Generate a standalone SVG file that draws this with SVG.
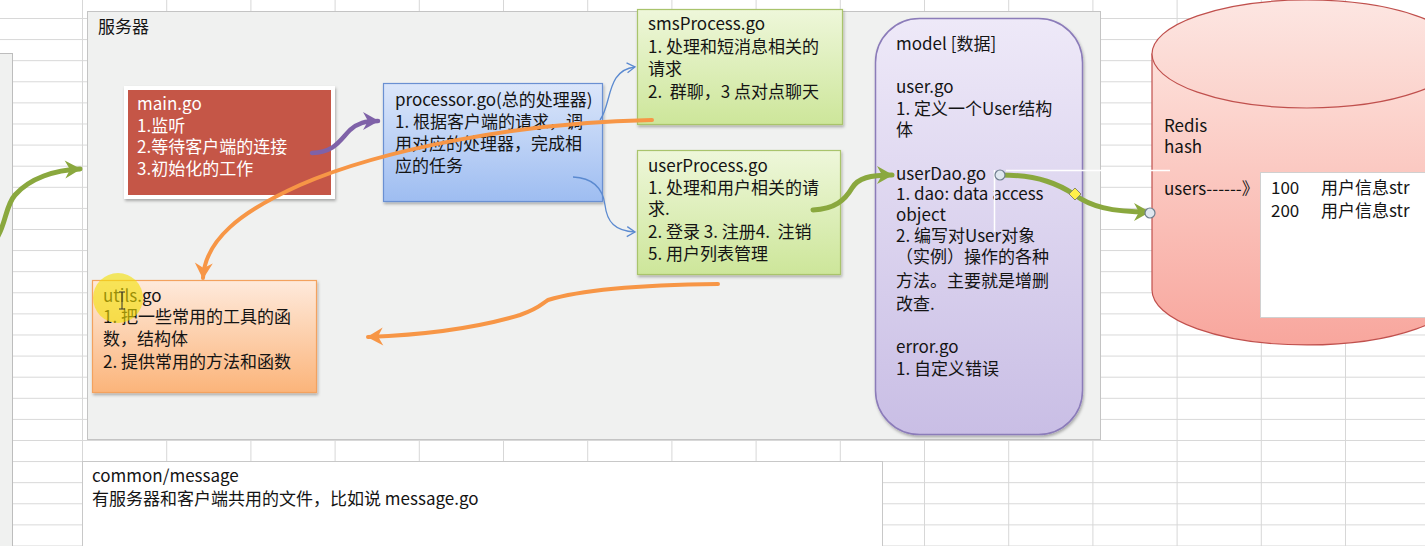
<svg xmlns="http://www.w3.org/2000/svg" width="1425" height="546" viewBox="0 0 1425 546">
<style>
  text { font-family: "Noto Sans CJK SC", "Noto Sans", sans-serif; font-size: 17px; fill: #141414; white-space: pre; }
  .w { fill: #ffffff; }
  .g { fill: none; stroke: #8aa83e; stroke-width: 5; stroke-linecap: round; }
  .o { fill: none; stroke: #f79646; stroke-width: 4; stroke-linecap: round; }
  .p { fill: none; stroke: #7f62a8; stroke-width: 4.5; stroke-linecap: round; }
  .b { fill: none; stroke: #5b8ad0; stroke-width: 1.3; }
  .h { fill: #dfe7ef; stroke: #6f7f8f; stroke-width: 1.2; }
</style>
<defs>
  <pattern id="grid" x="82" y="18" width="84.2" height="21.1" patternUnits="userSpaceOnUse">
    <path d="M0,0.5 H84.2 M0.5,0 V21.1" stroke="#d7d7d7" stroke-width="1" fill="none"/>
  </pattern>
  <filter id="sh" x="-10%" y="-10%" width="130%" height="130%">
    <feDropShadow dx="1" dy="2" stdDeviation="1.5" flood-color="#000" flood-opacity="0.3"/>
  </filter>
  <linearGradient id="gBlue" x1="0" y1="0" x2="0" y2="1">
    <stop offset="0" stop-color="#dbe6fa"/><stop offset="1" stop-color="#9ebdf1"/>
  </linearGradient>
  <linearGradient id="gGreen" x1="0" y1="0" x2="0" y2="1">
    <stop offset="0" stop-color="#eef7da"/><stop offset="1" stop-color="#cde69a"/>
  </linearGradient>
  <linearGradient id="gOrange" x1="0" y1="0" x2="0" y2="1">
    <stop offset="0" stop-color="#feeadc"/><stop offset="1" stop-color="#fbb47a"/>
  </linearGradient>
  <linearGradient id="gPurple" x1="0" y1="0" x2="0" y2="1">
    <stop offset="0" stop-color="#eee9f8"/><stop offset="1" stop-color="#c9bee5"/>
  </linearGradient>
  <linearGradient id="gCyl" x1="0" y1="0" x2="0" y2="1">
    <stop offset="0" stop-color="#fde0da"/><stop offset="1" stop-color="#f8a69d"/>
  </linearGradient>
  <linearGradient id="gCylTop" x1="0" y1="0" x2="0" y2="1">
    <stop offset="0" stop-color="#fde6e2"/><stop offset="1" stop-color="#fbd2cb"/>
  </linearGradient>
  <marker id="mg" markerWidth="22" markerHeight="22" refX="18" refY="11" orient="auto" markerUnits="userSpaceOnUse">
    <path d="M3,2 L19,11 L3,20 L8,11 Z" fill="#8aa83e"/>
  </marker>
  <marker id="mo" markerWidth="22" markerHeight="22" refX="18" refY="11" orient="auto" markerUnits="userSpaceOnUse">
    <path d="M3,2 L19,11 L3,20 L8,11 Z" fill="#f79646"/>
  </marker>
  <marker id="mp" markerWidth="22" markerHeight="22" refX="18" refY="11" orient="auto" markerUnits="userSpaceOnUse">
    <path d="M3,2 L19,11 L3,20 L8,11 Z" fill="#7f62a8"/>
  </marker>
  <marker id="mb" markerWidth="12" markerHeight="12" refX="10" refY="6" orient="auto" markerUnits="userSpaceOnUse">
    <path d="M2,1 L10,6 L2,11" fill="none" stroke="#5b8ad0" stroke-width="1.3"/>
  </marker>
</defs>

<!-- sheet background -->
<rect x="0" y="0" width="1425" height="546" fill="#ffffff"/>
<rect x="0" y="0" width="1425" height="546" fill="url(#grid)"/>
<rect x="-2" y="53.5" width="14.5" height="500" fill="#f0f1f0" stroke="#bdbdbd" stroke-width="1"/>

<!-- server panel -->
<g id="server">
  <rect x="87.5" y="11.5" width="1013" height="428" fill="#f0f1f0" stroke="#c4c4c4" stroke-width="1"/>
  <text x="98" y="33">服务器</text>
</g>

<!-- common/message -->
<g id="common">
  <rect x="82.5" y="461.5" width="800" height="100" fill="#ffffff" stroke="#c8c8c8" stroke-width="1"/>
  <text x="92" y="482">common/message</text>
  <text x="92" y="505">有服务器和客户端共用的文件，比如说 message.go</text>
</g>

<!-- Redis cylinder -->
<g id="redis">
  <path d="M1152,54 L1152,290 A155,55 0 0 0 1462,290 L1462,54 Z" fill="url(#gCyl)" stroke="#c0504d" stroke-width="1.2"/>
  <ellipse cx="1307" cy="54" rx="155" ry="54" fill="url(#gCylTop)" stroke="#c0504d" stroke-width="1.2"/>
  <text x="1164" y="132">Redis</text>
  <text x="1164" y="153">hash</text>
  <text x="1164" y="195">users------》</text>
  <rect x="1260.5" y="172.5" width="180" height="145" fill="#ffffff" stroke="#d0d0d0" stroke-width="1"/>
  <text x="1271" y="194">100</text>
  <text x="1321" y="194">用户信息str</text>
  <text x="1271" y="217">200</text>
  <text x="1321" y="217">用户信息str</text>
</g>

<!-- main.go -->
<g id="main">
  <rect x="126" y="88" width="207" height="109" fill="#c55646" stroke="#ffffff" stroke-width="4" filter="url(#sh)"/>
  <text class="w" x="137" y="110">main.go</text>
  <text class="w" x="137" y="132">1.监听</text>
  <text class="w" x="137" y="153">2.等待客户端的连接</text>
  <text class="w" x="137" y="175">3.初始化的工作</text>
</g>

<!-- processor.go -->
<g id="processor">
  <rect x="383.5" y="83.5" width="219" height="118" fill="url(#gBlue)" stroke="#6a90d2" stroke-width="1.2" filter="url(#sh)"/>
  <text x="395" y="106">processor.go(总的处理器)</text>
  <text x="395" y="128">1. 根据客户端的请求，调</text>
  <text x="395" y="150">用对应的处理器，完成相</text>
  <text x="395" y="172">应的任务</text>
</g>

<!-- smsProcess.go -->
<g id="sms">
  <rect x="637.5" y="9.5" width="205" height="115" fill="url(#gGreen)" stroke="#a9c46c" stroke-width="1.2" filter="url(#sh)"/>
  <text x="648" y="30">smsProcess.go</text>
  <text x="648" y="53">1. 处理和短消息相关的</text>
  <text x="648" y="75">请求</text>
  <text x="648" y="98">2.  群聊，3 点对点聊天</text>
</g>

<!-- userProcess.go -->
<g id="userProcess">
  <rect x="637.5" y="150.5" width="203" height="124" fill="url(#gGreen)" stroke="#a9c46c" stroke-width="1.2" filter="url(#sh)"/>
  <text x="648" y="172">userProcess.go</text>
  <text x="648" y="194">1. 处理和用户相关的请</text>
  <text x="648" y="215">求.</text>
  <text x="648" y="238">2. 登录 3. 注册4.  注销</text>
  <text x="648" y="260">5. 用户列表管理</text>
</g>

<!-- utils.go -->
<g id="utils">
  <rect x="92.5" y="280.5" width="224" height="112" fill="url(#gOrange)" stroke="#f3a25e" stroke-width="1.2" filter="url(#sh)"/>
  <text x="103" y="302">utils.go</text>
  <text x="103" y="323">1. 把一些常用的工具的函</text>
  <text x="103" y="345">数，结构体</text>
  <text x="103" y="368">2. 提供常用的方法和函数</text>
  <circle cx="118" cy="298" r="25" fill="#f3e000" opacity="0.6"/>
  <path d="M119,292 H125 M122,292 V309 M119,309 H125" fill="none" stroke="#333" stroke-width="1"/>
</g>

<!-- model -->
<g id="model">
  <rect x="875.5" y="18.5" width="207" height="416" rx="44" ry="44" fill="url(#gPurple)" stroke="#8b7bb9" stroke-width="1.5" filter="url(#sh)"/>
  <text x="896" y="50">model [数据]</text>
  <text x="896" y="93">user.go</text>
  <text x="896" y="115">1. 定义一个User结构</text>
  <text x="896" y="136">体</text>
  <text x="896" y="180">userDao.go</text>
  <text x="896" y="200">1. dao: data access</text>
  <text x="896" y="221">object</text>
  <text x="896" y="242">2. 编写对User对象</text>
  <text x="896" y="263">（实例）操作的各种</text>
  <text x="896" y="287">方法。主要就是增删</text>
  <text x="896" y="310">改查.</text>
  <text x="896" y="353">error.go</text>
  <text x="896" y="375">1. 自定义错误</text>
</g>

<!-- connectors -->
<g id="connectors">
  <path class="g" d="M-2,236 C6,222 6,205 15,195 C30,178 55,170 80,169" marker-end="url(#mg)"/>
  <path class="p" d="M312,153 C335,152 340,140 350,130 C358,123 365,121 378,121" marker-end="url(#mp)"/>
  <path class="b" d="M600,120 C612,104 606,70 635,67" marker-end="url(#mb)"/>
  <path class="b" d="M573,177 C595,178 603,190 605,205 C607,222 615,231 635,232" marker-end="url(#mb)"/>
  <path class="o" d="M652,120 C520,122 380,150 300,185 C240,212 205,240 203,278" marker-end="url(#mo)"/>
  <path class="o" d="M718,284 C640,285 580,290 548,300 C540,305 540,308 520,315 C470,330 420,335 368,337" marker-end="url(#mo)"/>
  <path class="g" d="M813,210 C835,209 845,200 852,188 C858,178 870,175 892,175" marker-end="url(#mg)"/>
  <path d="M1006,170.5 H1170 M994.5,170 V232" fill="none" stroke="#ffffff" stroke-width="1.5"/>
  <path class="g" d="M1000,175 C1040,175 1060,185 1075,195 C1090,206 1110,212 1149,212" marker-end="url(#mg)"/>
  <circle class="h" cx="1000" cy="175" r="5"/>
  <circle class="h" cx="1150" cy="213" r="5"/>
  <path d="M1075,188 L1081,194 L1075,200 L1069,194 Z" fill="#fff04a" stroke="#8a8a6a" stroke-width="1"/>
</g>
</svg>
